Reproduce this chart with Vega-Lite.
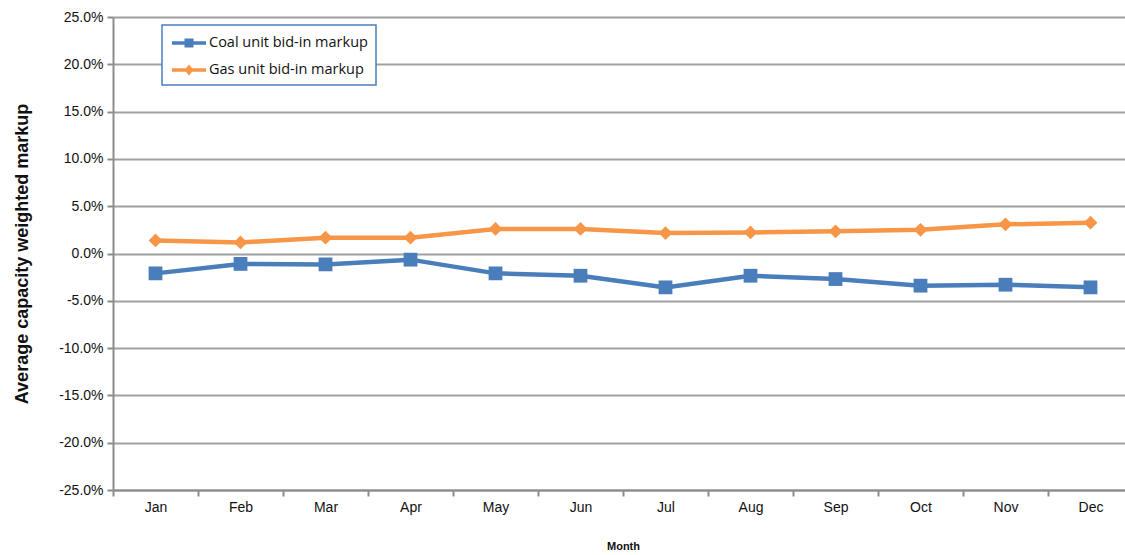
{
  "$schema": "https://vega.github.io/schema/vega-lite/v6.json",
  "autosize": {"type": "none"},
  "width": 1020,
  "height": 473,
  "padding": {"left": 113, "top": 17, "right": 0, "bottom": 65},
  "background": "white",
  "config": {
    "view": {"stroke": null},
    "font": "Liberation Sans",
    "axis": {"labelFont": "Liberation Sans", "titleFont": "Liberation Sans"}
  },
  "data": {
    "values": [
      {"month": "Jan", "series": "Coal unit bid-in markup", "value": -0.021},
      {"month": "Feb", "series": "Coal unit bid-in markup", "value": -0.011},
      {"month": "Mar", "series": "Coal unit bid-in markup", "value": -0.0115},
      {"month": "Apr", "series": "Coal unit bid-in markup", "value": -0.0065},
      {"month": "May", "series": "Coal unit bid-in markup", "value": -0.021},
      {"month": "Jun", "series": "Coal unit bid-in markup", "value": -0.0235},
      {"month": "Jul", "series": "Coal unit bid-in markup", "value": -0.0358},
      {"month": "Aug", "series": "Coal unit bid-in markup", "value": -0.0235},
      {"month": "Sep", "series": "Coal unit bid-in markup", "value": -0.027},
      {"month": "Oct", "series": "Coal unit bid-in markup", "value": -0.034},
      {"month": "Nov", "series": "Coal unit bid-in markup", "value": -0.033},
      {"month": "Dec", "series": "Coal unit bid-in markup", "value": -0.0358},
      {"month": "Jan", "series": "Gas unit bid-in markup", "value": 0.0138},
      {"month": "Feb", "series": "Gas unit bid-in markup", "value": 0.0117},
      {"month": "Mar", "series": "Gas unit bid-in markup", "value": 0.0167},
      {"month": "Apr", "series": "Gas unit bid-in markup", "value": 0.0167},
      {"month": "May", "series": "Gas unit bid-in markup", "value": 0.026},
      {"month": "Jun", "series": "Gas unit bid-in markup", "value": 0.026},
      {"month": "Jul", "series": "Gas unit bid-in markup", "value": 0.0216},
      {"month": "Aug", "series": "Gas unit bid-in markup", "value": 0.0223},
      {"month": "Sep", "series": "Gas unit bid-in markup", "value": 0.0234},
      {"month": "Oct", "series": "Gas unit bid-in markup", "value": 0.025},
      {"month": "Nov", "series": "Gas unit bid-in markup", "value": 0.0308},
      {"month": "Dec", "series": "Gas unit bid-in markup", "value": 0.0326}
    ]
  },
  "encoding": {
    "x": {
      "field": "month",
      "type": "ordinal",
      "sort": ["Jan","Feb","Mar","Apr","May","Jun","Jul","Aug","Sep","Oct","Nov","Dec"],
      "scale": {"paddingInner": 0, "paddingOuter": 0},
      "axis": {
        "title": "Month",
        "titleFontSize": 11,
        "titleFontWeight": "bold",
        "titleColor": "#111",
        "titlePadding": 26,
        "labelAngle": 0,
        "labelFontSize": 14,
        "labelColor": "#111",
        "labelPadding": 4,
        "tickBand": "extent",
        "tickSize": 6,
        "tickColor": "#8c8c8c",
        "tickWidth": 2,
        "domainColor": "#8c8c8c",
        "domainWidth": 2,
        "grid": false
      }
    },
    "y": {
      "field": "value",
      "type": "quantitative",
      "scale": {"domain": [-0.25, 0.25], "nice": false},
      "axis": {
        "title": "Average capacity weighted markup",
        "titleFontSize": 18,
        "titleFontWeight": "bold",
        "titleColor": "#111",
        "titlePadding": 27,
        "values": [-0.25,-0.2,-0.15,-0.1,-0.05,0,0.05,0.1,0.15,0.2,0.25],
        "labelExpr": "replace(format(datum.value, '.1%'), '\u2212', '-')",
        "labelFontSize": 14,
        "labelColor": "#111",
        "labelPadding": 4,
        "tickSize": 6,
        "tickColor": "#8c8c8c",
        "tickWidth": 2,
        "domainColor": "#8c8c8c",
        "domainWidth": 2,
        "grid": true,
        "gridColor": "#a0a0a0",
        "gridWidth": 2
      }
    },
    "color": {
      "field": "series",
      "type": "nominal",
      "scale": {
        "domain": ["Coal unit bid-in markup", "Gas unit bid-in markup"],
        "range": ["#4a7ebb", "#f79646"]
      },
      "legend": {
        "title": null,
        "orient": "none",
        "legendX": 49,
        "legendY": 8,
        "padding": 8,
        "strokeColor": "#4a7ebb",
        "fillColor": "white",
        "labelFont": "Open Sans",
        "labelFontSize": 14.5,
        "labelColor": "#111",
        "labelLimit": 400,
        "symbolSize": 400,
        "symbolOffset": 9,
        "labelOffset": 10,
        "rowPadding": 10,
        "encode": {
          "legend": {"update": {"strokeWidth": {"value": 1.5}}},
          "symbols": {
            "update": {
              "shape": {"signal": "datum.value === 'Coal unit bid-in markup' ? 'M-1.7,-0.17H1.7V0.17H-1.7Z M-0.45,-0.45H0.45V0.45H-0.45Z' : 'M-1.7,-0.17H1.7V0.17H-1.7Z M0,-0.55L0.45,0L0,0.55L-0.45,0Z'"},
              "fill": {"scale": "color", "field": "value"},
              "strokeWidth": {"value": 0},
              "opacity": {"value": 1}
            }
          }
        }
      }
    }
  },
  "layer": [
    {"mark": {"type": "line", "strokeWidth": 4.5}},
    {
      "transform": [{"filter": "datum.series === 'Coal unit bid-in markup'"}],
      "mark": {"type": "point", "filled": true, "size": 190, "opacity": 1, "shape": "square"}
    },
    {
      "transform": [{"filter": "datum.series === 'Gas unit bid-in markup'"}],
      "mark": {"type": "point", "filled": true, "size": 190, "opacity": 1, "shape": "diamond"}
    }
  ]
}
